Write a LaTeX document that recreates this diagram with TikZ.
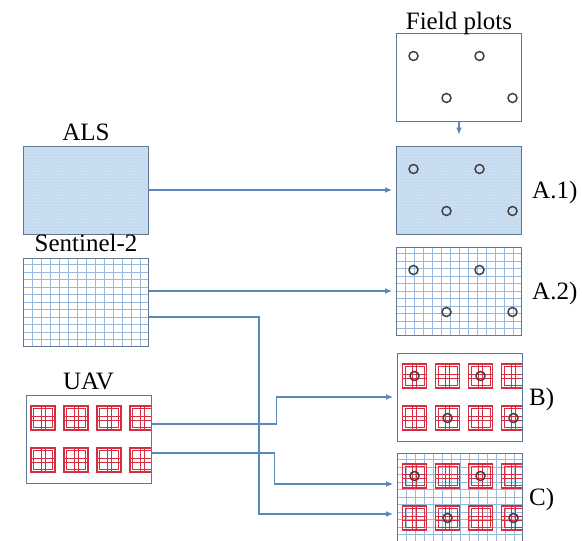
\documentclass[tikz,border=0pt]{standalone}
\usepackage{fontspec}
\setmainfont{Liberation Serif}
\usepackage{tikz}
\usetikzlibrary{arrows.meta,positioning,patterns}

\definecolor{framecol}{RGB}{95,120,150}
\definecolor{alsblue}{RGB}{196,218,238}
\definecolor{gridcol}{RGB}{150,185,222}
\definecolor{tilered}{RGB}{215,45,65}
\definecolor{ringcol}{RGB}{65,65,70}
\definecolor{arrowcol}{RGB}{90,135,185}

% path picture contents, coordinates from the box centre
\newcommand\cellgrid{%
  \draw[gridline] (path picture bounding box.south west) grid (path picture bounding box.north east);}
\newcommand\uavtiles{%
  \foreach \row in {0,1} \foreach \col in {0,...,3} {
    \pgfmathsetmacro\tx{-57.5+33*\col}\pgfmathsetmacro\ty{-33+42*\row}
    \draw[tile] (\tx,\ty) rectangle ++(24,24);
    \draw[tile,line width=0.6pt] (\tx+2.5,\ty+2.5) rectangle ++(19,19)
      (\tx+10,\ty) -- ++(0,24) (\tx+14,\ty) -- ++(0,24)
      (\tx,\ty+10) -- ++(24,0) (\tx,\ty+14) -- ++(24,0);
  }}
\newcommand\fieldrings{%
  \foreach \px/\py in {17/23,83/23,50/65,116/65}
    \draw[ring] (\px-62.5,\py-44) circle[radius=4.5pt];}

\begin{document}
\begin{tikzpicture}[x=1pt,y=-1pt,
	font=\fontsize{25}{29}\selectfont\rmfamily,
	box/.style={rectangle,draw=framecol,line width=1pt,inner sep=0pt,
		minimum width=125pt,minimum height=88pt},
	lbl/.style={inner sep=0pt,text depth=0pt},
	dotted fill/.style={preaction={fill=alsblue},pattern=dots,pattern color=white},
	gridline/.style={draw=gridcol,line width=0.6pt,xstep=9pt,ystep=7.5pt},
	tile/.style={draw=tilered,line width=1.2pt},
	ring/.style={draw=ringcol,line width=1.5pt},
	arr/.style={draw=arrowcol,line width=1.1pt,-{Latex[length=7pt,width=6pt]},shorten >=4pt}]
	\useasboundingbox (0,0) rectangle (582,541);

	% inputs
	\node[box,dotted fill,name=als] at (86,190) {};
	\node[box,name=sent,path picture={\cellgrid}] at (86,302) {};
	\node[box,name=uav,path picture={\uavtiles}] at (88.5,439) {};
	\node[lbl,above=5pt of als]{ALS};
	\node[lbl,above=6pt of sent]{Sentinel-2};
	\node[lbl,above=5pt of uav]{UAV};

	% field plots and results
	\node[box,name=fp,path picture={\fieldrings}] at (459,77) {};
	\node[box,dotted fill,name=a1,path picture={\fieldrings}] at (459,190) {};
	\node[box,name=a2,path picture={\cellgrid\fieldrings}] at (459,291) {};
	\node[box,name=b,path picture={\uavtiles\fieldrings}] at (460,397) {};
	\node[box,name=c,path picture={\cellgrid\uavtiles\fieldrings}] at (460,497) {};
	\node[lbl,above=3pt of fp]{Field plots};
	\node[lbl,right=10pt of a1]{A.1)};
	\node[lbl,right=10pt of a2]{A.2)};
	\node[lbl,right=6pt of b]{B)};
	\node[lbl,right=6pt of c]{C)};

	\path (fp) edge[arr,shorten >=11pt] (a1)
		(als) edge[arr] (a1)
		(sent.east |- a2.west) edge[arr] (a2.west);
	\draw[arr] ([yshift=-15pt]sent.east) -- ++(110,0) |- ([yshift=-17pt]c.west);
	\draw[arr] ([yshift=15pt]uav.east) -- ++(125,0) |- (b.west);
	\draw[arr] ([yshift=-14pt]uav.east) -- ++(123,0) |- ([yshift=13pt]c.west);
\end{tikzpicture}
\end{document}
